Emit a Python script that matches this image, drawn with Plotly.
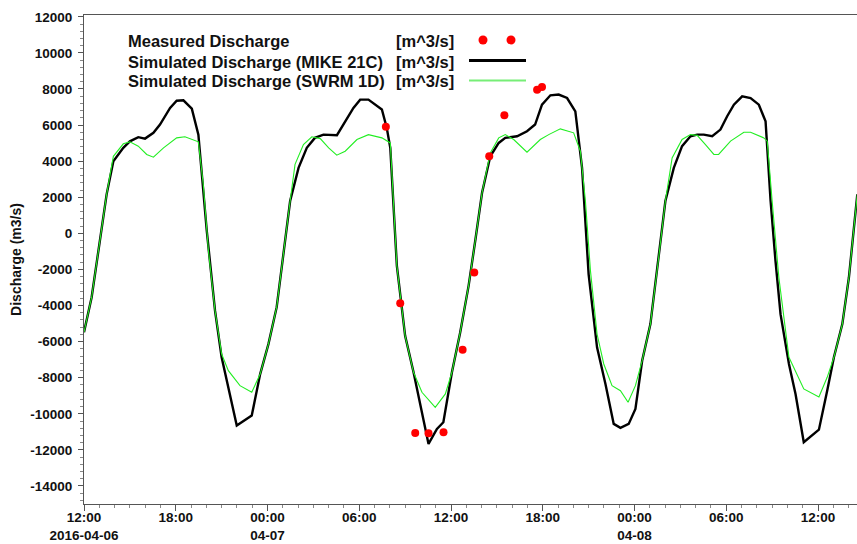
import pandas as pd
import plotly.graph_objects as go

# Time axis starts at 2016-04-06 12:00; series times are hour offsets from it
START = pd.Timestamp("2016-04-06 12:00")

# Simulated discharge, MIKE 21C [m^3/s]
mike_hours = [0.0, 0.5, 1.48, 1.92, 2.57, 3.0, 3.55, 3.99, 4.54, 4.97, 5.63, 6.06, 6.5, 7.05,
              7.48, 8.03, 8.57, 9.0, 9.99, 10.97, 11.52, 12.06, 12.6, 13.04, 13.48, 14.03,
              14.57, 15.1, 15.66, 16.54, 17.08, 17.62, 18.06, 18.6, 19.48, 19.8, 20.03, 20.46,
              21.0, 21.55, 22.53, 23.08, 23.5, 24.06, 24.6, 25.15, 25.6, 26.03, 26.57, 27.12,
              27.55, 28.32, 28.97, 29.5, 29.95, 30.5, 31.04, 31.59, 32.13, 32.57, 33.0, 33.55,
              34.1, 34.64, 35.08, 35.62, 36.06, 36.5, 37.04, 37.58, 38.02, 38.57, 39.11, 39.66,
              40.1, 40.53, 41.08, 41.62, 42.06, 42.5, 43.04, 43.59, 44.13, 44.57, 44.9, 45.22,
              45.55, 46.1, 46.53, 47.07, 48.06, 48.6, 49.04, 49.59, 50.02, 50.57]
mike_q = [-5480, -3540, 2160, 4000, 4740, 5100, 5330, 5250, 5570, 6030, 6950, 7350, 7370, 6910,
          5470, 130, -4300, -6870, -10650, -10100, -7800, -6140, -4090, -980, 1790, 3630,
          4740, 5290, 5470, 5440, 6210, 6950, 7410, 7410, 6860, 5840, 4740, -1810,
          -5680, -7700, -11670, -10840, -10470, -7700, -5490, -2910, -330, 2250, 4270, 5010,
          5290, 5380, 5660, 6030, 7130, 7650, 7690, 7500, 6760, 3630, -2270, -6320,
          -8350, -10560, -10780, -10560, -9730, -7060, -5030, -1340, 1790, 3630, 4830, 5380,
          5470, 5470, 5380, 5750, 6490, 7130, 7590, 7500, 7130, 6210, 1790, -1530,
          -4480, -7240, -8900, -11575, -10880, -8720, -6870, -5030, -2450, 2160]

# Simulated discharge, SWRM 1D [m^3/s]
swrm_hours = [0.0, 0.5, 1.48, 1.92, 2.57, 3.0, 3.55, 4.1, 4.54, 5.2, 6.06, 6.6, 7.48, 7.8,
              8.14, 8.57, 9.0, 9.44, 10.2, 10.97, 11.52, 12.06, 12.6, 13.04, 13.48, 13.8,
              14.35, 14.9, 15.45, 16.0, 16.53, 17.08, 17.85, 18.6, 19.48, 20.03, 20.46, 21.0,
              21.55, 22.1, 22.97, 23.63, 24.06, 24.6, 25.15, 25.6, 26.03, 26.57, 27.12, 27.55,
              28.1, 28.97, 29.84, 30.39, 31.15, 32.02, 32.46, 32.79, 33.12, 33.55, 33.99, 34.53,
              35.08, 35.58, 36.06, 36.5, 37.04, 37.58, 38.02, 38.46, 39.11, 39.66, 40.1, 40.64,
              41.19, 41.5, 42.28, 43.15, 43.59, 44.46, 44.68, 45.0, 45.44, 46.1, 47.07, 48.06,
              48.6, 49.04, 49.59, 50.02, 50.57]
swrm_q = [-5480, -3540, 2160, 4270, 4960, 5070, 4830, 4370, 4220, 4740, 5290, 5350, 5070, 2710,
          -980, -4300, -6690, -7610, -8440, -8810, -7800, -6140, -4090, -980, 1790, 3820,
          4920, 5350, 5250, 4740, 4330, 4550, 5200, 5470, 5290, 5010, -1810, -5680,
          -7700, -8810, -9640, -8900, -7700, -5490, -2910, -330, 2250, 4460, 5290, 5470,
          5200, 4500, 5200, 5470, 5790, 5570, 4550, 1790, -2080, -5580, -7240, -8440,
          -8720, -9360, -8440, -7060, -5030, -1340, 1790, 4180, 5200, 5470, 5430, 4920,
          4370, 4370, 5110, 5600, 5600, 5290, 5110, 1790, -2450, -6870, -8620, -9070,
          -7980, -6870, -5030, -2450, 2160]

# Measured discharge [m^3/s]
meas_hours = [19.74, 20.68, 21.66, 22.53, 23.51, 24.76, 25.52, 26.5, 27.49, 29.63, 29.95]
meas_q = [5900, -3870, -11060, -11080, -11020, -6450, -2170, 4270, 6540, 7960, 8110]

# Axis ticks
x_tick_hours = [0, 6, 12, 18, 24, 30, 36, 42, 48]
x_tick_text = ["12:00<br>2016-04-06", "18:00", "00:00<br>04-07", "06:00", "12:00",
               "18:00", "00:00<br>04-08", "06:00", "12:00"]
x_end_hours = 50.55
y_tick_vals = [12000, 10000, 8000, 6000, 4000, 2000, 0, -2000, -4000, -6000, -8000,
               -10000, -12000, -14000]
y_tick_text = ["12000", "10000", "8000", "6000", "4000", "2000", "0", "-2000", "-4000",
               "-6000", "-8000", "-10000", "-12000", "-14000"]

legend_names = ["Measured Discharge", "Simulated Discharge (MIKE 21C)",
                "Simulated Discharge (SWRM 1D)"]
legend_unit = "[m^3/s]"


def to_time(hours):
    return START + pd.to_timedelta(hours, unit="h")


FONT = "Liberation Sans, Arial, sans-serif"
MIKE_COLOR = "#000000"
SWRM_COLOR = "#22ee22"
MEAS_COLOR = "#ff0000"

fig = go.Figure()
fig.add_trace(go.Scatter(x=to_time(mike_hours), y=mike_q, mode="lines",
                         line=dict(color=MIKE_COLOR, width=2.4), name=legend_names[1]))
fig.add_trace(go.Scatter(x=to_time(swrm_hours), y=swrm_q, mode="lines",
                         line=dict(color=SWRM_COLOR, width=1.1), name=legend_names[2]))
fig.add_trace(go.Scatter(x=to_time(meas_hours), y=meas_q, mode="markers",
                         marker=dict(color=MEAS_COLOR, size=8), name=legend_names[0]))

# plot area geometry in pixels (used for the in-plot key)
L, T, W, H = 84, 15, 773, 489


def px_x(px):
    return (px - L) / W


def px_y(py):
    return (T + H - py) / H


key_font = dict(family=FONT, size=16.5, color="#111", weight="bold")
annotations = []
shapes = []
row_y = [41, 61.5, 81]
for name, yy in zip(legend_names, row_y):
    annotations.append(dict(text=name, x=px_x(126), y=px_y(yy), xref="paper", yref="paper",
                            xanchor="left", yanchor="middle", showarrow=False, font=key_font))
    annotations.append(dict(text=legend_unit, x=px_x(456), y=px_y(yy), xref="paper",
                            yref="paper", xanchor="right", yanchor="middle", showarrow=False,
                            font=key_font))
for cx in (483, 511):
    shapes.append(dict(type="circle", xref="paper", yref="paper", xsizemode="pixel",
                       ysizemode="pixel", xanchor=px_x(cx), yanchor=px_y(40),
                       x0=-4.5, x1=4.5, y0=-4.5, y1=4.5,
                       fillcolor=MEAS_COLOR, line=dict(width=0)))
shapes.append(dict(type="line", xref="paper", yref="paper", x0=px_x(469), x1=px_x(526),
                   y0=px_y(60.5), y1=px_y(60.5), line=dict(color=MIKE_COLOR, width=3)))
shapes.append(dict(type="line", xref="paper", yref="paper", x0=px_x(469), x1=px_x(526),
                   y0=px_y(80.5), y1=px_y(80.5), line=dict(color="#77ee77", width=2)))

fig.update_layout(
    width=857, height=544,
    margin=dict(l=L, r=857 - L - W, t=T, b=544 - T - H),
    plot_bgcolor="white", paper_bgcolor="white",
    showlegend=False,
    annotations=annotations, shapes=shapes,
    xaxis=dict(
        type="date", range=[to_time(0), to_time(x_end_hours)], automargin=False,
        tickvals=to_time(x_tick_hours), ticktext=x_tick_text,
        ticks="outside", ticklen=6, tickcolor="#555", tickwidth=1, ticklabelstandoff=-5,
        minor=dict(ticks="outside", ticklen=3, dtick=3600000, tickcolor="#888", showgrid=False),
        showline=True, linecolor="#555", linewidth=1, mirror=True,
        showgrid=False, zeroline=False,
        tickfont=dict(family=FONT, size=13.5, color="#111", weight="bold"),
    ),
    yaxis=dict(
        range=[-15000, 12100], tickvals=y_tick_vals, ticktext=y_tick_text, automargin=False,
        ticks="outside", ticklen=5, tickcolor="#555", tickwidth=1,
        minor=dict(ticks="outside", ticklen=3, tick0=0, dtick=400, tickcolor="#888",
                   showgrid=False),
        showline=True, linecolor="#555", linewidth=1,
        showgrid=False, zeroline=False, ticklabelstandoff=3,
        tickfont=dict(family=FONT, size=13.5, color="#111", weight="bold"),
        title=dict(text="Discharge (m3/s)", standoff=5,
                   font=dict(family=FONT, size=14, color="#111", weight="bold")),
    ),
)

fig.write_html("out.html")
